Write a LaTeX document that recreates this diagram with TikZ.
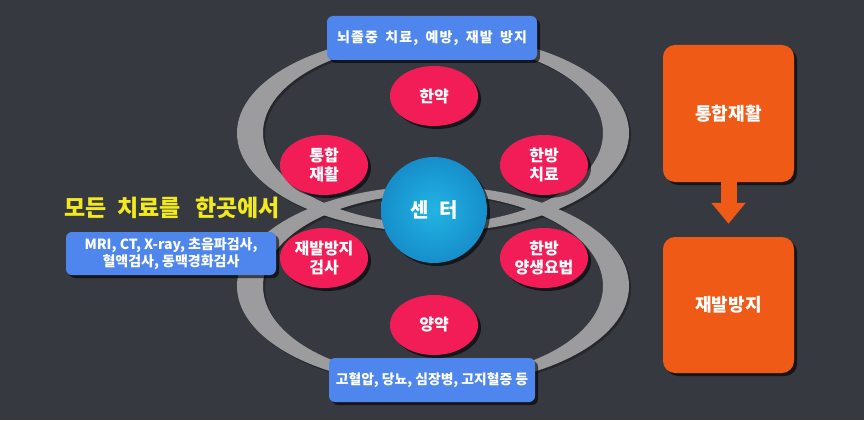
\documentclass[tikz,border=0pt]{standalone}
\usepackage{fontspec}
\setmainfont{Noto Sans CJK KR}
\usetikzlibrary{shapes.geometric,shadows,calc,arrows.meta}
\definecolor{bg}{HTML}{36393F}
\definecolor{ringgray}{HTML}{9C9C9E}
\definecolor{redpink}{HTML}{F21D56}
\definecolor{boxblue}{HTML}{4F86EE}
\definecolor{boxorange}{HTML}{EF5A16}
\definecolor{cyanin}{HTML}{22B4E2}
\definecolor{cyanout}{HTML}{168ECB}
\definecolor{txtyellow}{HTML}{F2EA1E}
\begin{document}
\begin{tikzpicture}[x=1pt,y=-1pt,
  shadowed/.style={drop shadow={shadow xshift=3pt,shadow yshift=-3pt,fill=black,opacity=0.6}},
  redell/.style={ellipse,fill=redpink,shadowed,minimum width=88pt,minimum height=60pt,inner sep=0pt,
     text=white,align=center,font=\bfseries\fontsize{16}{19}\selectfont},
  bluebox/.style={rectangle,rounded corners=6pt,fill=boxblue,shadowed,inner sep=0pt,
     text=white,align=center,font=\bfseries\fontsize{14}{17}\selectfont},
  orangebox/.style={rectangle,rounded corners=12pt,fill=boxorange,shadowed,minimum width=131pt,
     minimum height=137pt,inner sep=0pt,text=white,font=\bfseries\fontsize{18}{21}\selectfont},
  ring/.style={fill=ringgray,even odd rule},
  ringshadow/.style={fill=black,opacity=0.3,even odd rule}
]
\useasboundingbox (0,0) rectangle (864,420);
\fill[bg] (0,0) rectangle (864,420);
% ring shadows
\fill[ringshadow]
  (435,135) ellipse [x radius=196pt,y radius=99pt]
  (435,135) ellipse [x radius=170pt,y radius=91pt];
\fill[ringshadow]
  (435,288) ellipse [x radius=196pt,y radius=100pt]
  (435,288) ellipse [x radius=170pt,y radius=92pt];
% rings
\fill[ring]
  (433,133) ellipse [x radius=196pt,y radius=99pt]
  (433,133) ellipse [x radius=170pt,y radius=91pt];
\fill[ring]
  (433,286) ellipse [x radius=196pt,y radius=100pt]
  (433,286) ellipse [x radius=170pt,y radius=92pt];
% boxes
\node[bluebox,minimum width=210pt,minimum height=44pt] (top) at (432,38)
  {\addfontfeature{LetterSpace=8}뇌졸중\hspace{3pt} 치료,\hspace{3pt} 예방,\hspace{3pt} 재발\hspace{3pt} 방지};
\node[bluebox,minimum width=206pt,minimum height=44pt,font=\bfseries\fontsize{13.8}{17}\selectfont] (bot) at (432,380)
  {고혈압, 당뇨, 심장병, 고지혈증 등};
\node[bluebox,minimum width=210pt,minimum height=43pt,font=\bfseries\fontsize{14}{16.5}\selectfont] (left) at (171,253.5)
  {MRI, CT, X-ray, 초음파검사,\\혈액검사, 동맥경화검사};
\node[text=txtyellow,font=\bfseries\fontsize{23}{26}\selectfont,inner sep=0pt] (slogan) at (172,208)
  {모든\hspace{11pt}치료를\hspace{14pt}한곳에서};
% red ellipses
\node[redell] (hy) at (434,96) {한약};
\node[redell] (th) at (324,165) {통합\\재활};
\node[redell] (hc) at (544,165) {한방\\치료};
\node[redell] (jb) at (324,258) {재발방지\\검사};
\node[redell] (hs) at (544,258) {한방\\양생요법};
\node[redell] (yy) at (434,325) {양약};
% center
\node[circle,minimum size=106pt,inner sep=0pt,inner color=cyanin,outer color=cyanout,shadowed,
  text=white,font=\bfseries\fontsize{20}{24}\selectfont] (ctr) at (434,210) {센\hspace{11pt}터};
% orange boxes
\node[orangebox] (o1) at (728.5,113.5) {통합재활};
\node[orangebox,minimum height=136pt] (o2) at (728.5,305) {재발방지};
\coordinate (atip) at ($(o2.north)+(0,-13)$);
\draw[boxorange,line width=16pt,-{Triangle[width=33pt,length=21pt]}] (o1.south) -- (atip);
\end{tikzpicture}
\end{document}
